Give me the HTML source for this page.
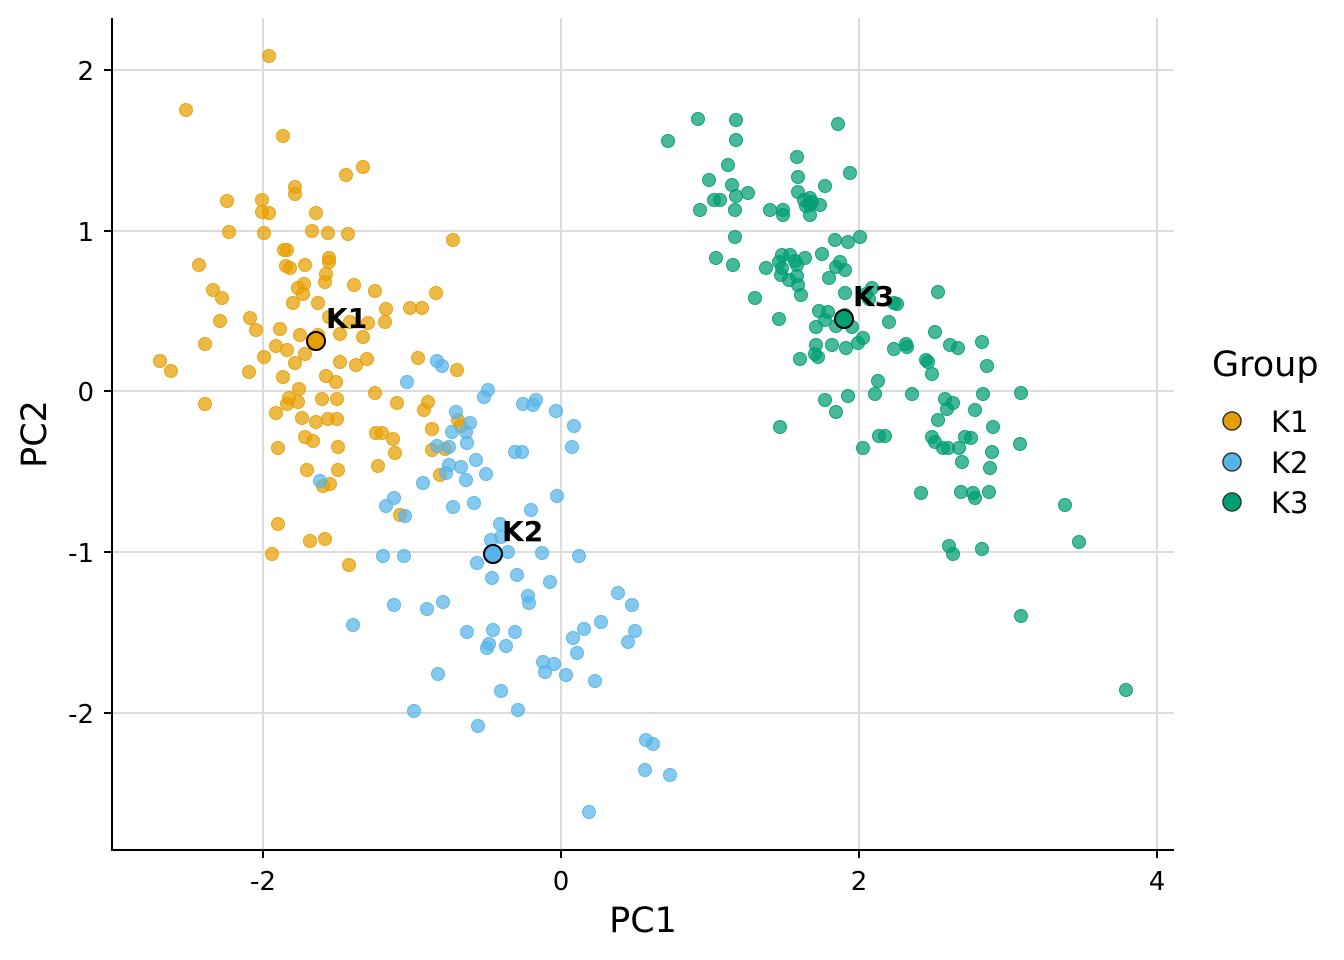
<!DOCTYPE html>
<html><head><meta charset="utf-8"><style>
body{margin:0;background:#fff}
svg{display:block;font-family:"DejaVu Sans","Liberation Sans",sans-serif}
</style></head><body>
<svg id="s" width="1344" height="960" xmlns="http://www.w3.org/2000/svg">
<g stroke="#dcdcdc" stroke-width="2">
<line x1="112" x2="1174" y1="70" y2="70"/><line x1="112" x2="1174" y1="231" y2="231"/>
<line x1="112" x2="1174" y1="391" y2="391"/><line x1="112" x2="1174" y1="552" y2="552"/>
<line x1="112" x2="1174" y1="713" y2="713"/>
<line x1="263" x2="263" y1="18" y2="850"/><line x1="561" x2="561" y1="18" y2="850"/>
<line x1="859" x2="859" y1="18" y2="850"/><line x1="1157" x2="1157" y1="18" y2="850"/>
</g>
<g id="pts"></g>
<g stroke="#000" stroke-width="2">
<line x1="112" x2="112" y1="18" y2="851"/><line x1="111" x2="1174" y1="850" y2="850"/>
<line x1="104" x2="112" y1="70" y2="70"/><line x1="104" x2="112" y1="231" y2="231"/>
<line x1="104" x2="112" y1="391" y2="391"/><line x1="104" x2="112" y1="552" y2="552"/>
<line x1="104" x2="112" y1="713" y2="713"/>
<line x1="263" x2="263" y1="850" y2="858"/><line x1="561" x2="561" y1="850" y2="858"/>
<line x1="859" x2="859" y1="850" y2="858"/><line x1="1157" x2="1157" y1="850" y2="858"/>
</g>
<g font-size="26" fill="#000" text-anchor="end">
<text x="94" y="80">2</text><text x="94" y="241">1</text><text x="94" y="401">0</text>
<text x="94" y="562">-1</text><text x="94" y="723">-2</text>
</g>
<g font-size="26" fill="#000" text-anchor="middle">
<text x="263" y="890">-2</text><text x="561" y="890">0</text><text x="859" y="890">2</text><text x="1157" y="890">4</text>
</g>
<text x="643" y="932" font-size="35" text-anchor="middle">PC1</text>
<text transform="translate(46,434) rotate(-90)" font-size="35" text-anchor="middle">PC2</text>
<g stroke="#000" stroke-width="2">
<circle cx="316" cy="341" r="9" fill="#E69F00"/>
<circle cx="493" cy="554" r="9" fill="#56B4E9"/>
<circle cx="844" cy="319" r="9" fill="#009E73"/>
</g>
<g font-size="28" font-weight="bold">
<text x="326" y="328">K1</text><text x="502" y="541">K2</text><text x="853" y="306">K3</text>
</g>
<text x="1212" y="376" font-size="35">Group</text>
<g stroke="#333" stroke-width="1.5">
<circle cx="1232" cy="421" r="9" fill="#E69F00"/>
<circle cx="1232" cy="462" r="9" fill="#56B4E9"/>
<circle cx="1232" cy="502" r="9" fill="#009E73"/>
</g>
<g font-size="29"><text x="1271" y="432">K1</text><text x="1271" y="473">K2</text><text x="1271" y="513">K3</text></g>
</svg>
<script>
var K1=[269,56,186,110,283,136,363,167,346,175,295,187,295,194,227,201,262,200,269,213,262,212,316,213,229,232,264,233,312,231,348,234,328,233,453,240,284,250,287,250,199,265,286,266,290,268,329,258,329,262,305,265,326,274,325,282,304,284,213,290,222,298,298,288,303,294,354,285,375,291,436,293,293,303,318,303,386,309,410,308,422,308,250,318,220,321,329,317,350,322,368,323,385,322,256,330,280,329,300,335,318,335,340,334,363,337,205,344,276,346,287,350,264,357,305,354,160,361,171,371,249,372,295,363,340,362,356,365,367,359,418,358,457,370,326,376,336,382,283,377,299,389,375,393,205,404,289,398,287,404,298,402,322,399,337,399,397,403,428,402,424,410,276,413,328,419,337,419,316,422,302,418,376,433,382,433,393,439,432,429,305,437,313,441,338,447,278,448,395,453,432,450,445,449,307,470,378,466,338,470,330,484,323,486,278,524,310,541,325,539,272,554,349,565,458,420,461,426,400,515,440,475];
var K2=[437,361,442,366,407,382,488,390,484,397,523,404,536,400,533,405,556,411,456,412,470,423,574,426,452,432,466,432,437,446,449,447,467,443,572,447,476,460,515,452,522,452,449,465,461,467,486,474,446,473,466,480,423,483,453,507,474,503,557,496,394,498,386,506,405,516,531,510,500,524,491,540,501,537,508,552,542,553,579,556,383,556,404,556,477,563,492,578,517,575,550,582,528,596,529,603,618,593,394,605,427,609,443,602,632,605,573,638,584,629,601,622,577,653,467,632,493,630,515,632,487,648,506,646,489,644,628,642,635,631,543,662,554,664,545,672,566,675,595,681,438,674,501,691,518,710,414,711,478,726,353,625,646,740,653,744,645,770,670,775,589,812,320,481];
var K3=[698,119,668,141,736,120,838,124,709,180,728,165,736,140,748,193,732,185,736,196,714,200,700,210,720,200,735,210,810,215,770,210,797,157,798,177,825,186,810,205,806,206,783,210,783,215,798,192,804,200,810,198,820,205,850,173,812,202,735,237,716,258,733,265,766,268,782,255,779,262,782,268,790,255,797,265,781,275,795,261,805,258,789,280,797,276,822,254,835,240,848,242,860,237,840,262,836,267,845,270,829,278,798,285,801,295,755,298,779,319,819,311,828,312,825,320,816,327,836,326,845,315,852,327,863,338,858,343,846,348,832,345,816,345,815,354,800,359,818,357,889,322,894,303,897,304,866,294,869,299,845,293,872,288,906,344,907,347,938,292,935,332,928,362,894,349,950,345,926,360,932,374,958,348,982,342,987,366,878,381,875,394,848,396,825,400,836,412,912,394,945,399,953,403,983,394,1021,393,780,427,863,448,879,436,885,436,938,420,932,437,943,448,935,442,948,448,965,437,971,438,975,410,993,427,1020,444,962,462,992,452,990,468,921,493,961,492,973,493,975,498,989,492,949,546,953,554,982,549,1065,505,1079,542,1021,616,1126,690,959,448,947,409];
var g=document.getElementById('pts'),h='';
[[K1,'#E69F00'],[K2,'#56B4E9'],[K3,'#009E73']].forEach(function(p){var a=p[0];for(var i=0;i<a.length;i+=2)h+='<circle cx="'+a[i]+'" cy="'+a[i+1]+'" r="6.5" fill="'+p[1]+'" fill-opacity="0.72" stroke="'+p[1]+'" stroke-opacity="0.9" stroke-width="1"/>';});
g.innerHTML=h;
</script>
</body></html>
